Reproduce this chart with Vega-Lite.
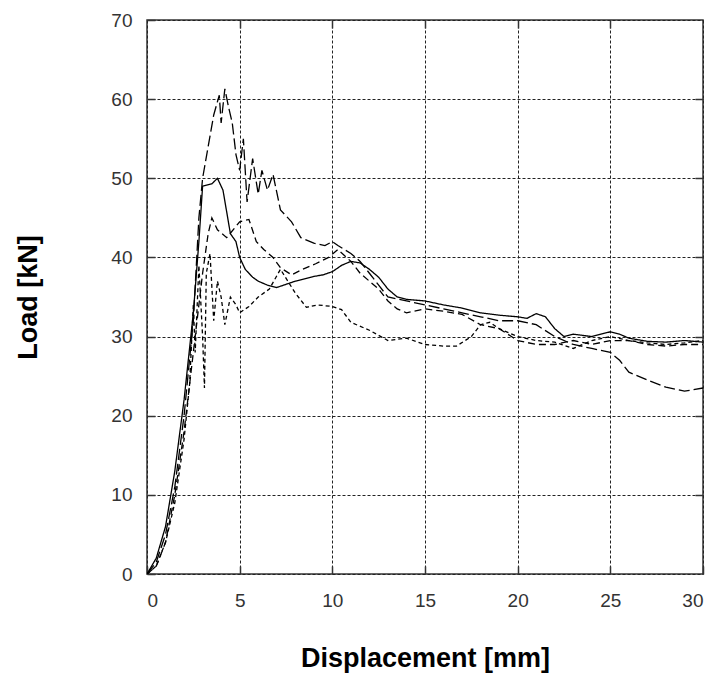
{
  "$schema": "https://vega.github.io/schema/vega-lite/v6.json",
  "autosize": "none",
  "width": 556,
  "height": 554,
  "padding": {"left": 147, "top": 20, "right": 15, "bottom": 103},
  "background": "#ffffff",
  "config": {
    "view": {"stroke": "#333333", "strokeWidth": 1.5},
    "font": "Liberation Sans",
    "axis": {
      "grid": false,
      "gridColor": "#222222",
      "gridDash": [3, 2],
      "gridOpacity": 1,
      "gridWidth": 1,
      "domain": false,
      "ticks": true,
      "tickSize": -8,
      "tickColor": "#333333",
      "tickWidth": 1.5,
      "labelFont": "Liberation Sans",
      "labelFontSize": 19,
      "labelColor": "#333333",
      "titleFont": "Liberation Sans",
      "titleFontSize": 27,
      "titleFontWeight": "bold",
      "titleColor": "#000000"
    }
  },
  "resolve": {"axis": {"x": "independent", "y": "independent"}},
  "data": {
    "values": [
      {"series": "A", "x": 0, "y": 0}, {"series": "A", "x": 0.5, "y": 2}, {"series": "A", "x": 1, "y": 6}, {"series": "A", "x": 1.5, "y": 13}, {"series": "A", "x": 2, "y": 22}, {"series": "A", "x": 2.5, "y": 33}, {"series": "A", "x": 2.8, "y": 42}, {"series": "A", "x": 3.0, "y": 49}, {"series": "A", "x": 3.5, "y": 49.3}, {"series": "A", "x": 3.8, "y": 50}, {"series": "A", "x": 4.1, "y": 48.5}, {"series": "A", "x": 4.5, "y": 43}, {"series": "A", "x": 4.8, "y": 42}, {"series": "A", "x": 5, "y": 40}, {"series": "A", "x": 5.3, "y": 38.5}, {"series": "A", "x": 5.7, "y": 37.5}, {"series": "A", "x": 6, "y": 37}, {"series": "A", "x": 6.5, "y": 36.5}, {"series": "A", "x": 7, "y": 36.2}, {"series": "A", "x": 7.5, "y": 36.6}, {"series": "A", "x": 8, "y": 37}, {"series": "A", "x": 8.5, "y": 37.3}, {"series": "A", "x": 9, "y": 37.6}, {"series": "A", "x": 9.5, "y": 37.8}, {"series": "A", "x": 10, "y": 38.2}, {"series": "A", "x": 10.5, "y": 39}, {"series": "A", "x": 11, "y": 39.5}, {"series": "A", "x": 11.5, "y": 39.3}, {"series": "A", "x": 12, "y": 38.5}, {"series": "A", "x": 12.5, "y": 37.5}, {"series": "A", "x": 13, "y": 36}, {"series": "A", "x": 13.5, "y": 35}, {"series": "A", "x": 14, "y": 34.7}, {"series": "A", "x": 15, "y": 34.5}, {"series": "A", "x": 16, "y": 34}, {"series": "A", "x": 17, "y": 33.6}, {"series": "A", "x": 18, "y": 33}, {"series": "A", "x": 19, "y": 32.7}, {"series": "A", "x": 20, "y": 32.5}, {"series": "A", "x": 20.5, "y": 32.3}, {"series": "A", "x": 21, "y": 32.9}, {"series": "A", "x": 21.5, "y": 32.5}, {"series": "A", "x": 22, "y": 31}, {"series": "A", "x": 22.5, "y": 30}, {"series": "A", "x": 23, "y": 30.3}, {"series": "A", "x": 24, "y": 30}, {"series": "A", "x": 25, "y": 30.6}, {"series": "A", "x": 25.5, "y": 30.3}, {"series": "A", "x": 26, "y": 29.8}, {"series": "A", "x": 27, "y": 29.4}, {"series": "A", "x": 28, "y": 29.3}, {"series": "A", "x": 29, "y": 29.5}, {"series": "A", "x": 30, "y": 29.3},

      {"series": "B", "x": 0, "y": 0}, {"series": "B", "x": 0.5, "y": 1.5}, {"series": "B", "x": 1, "y": 5}, {"series": "B", "x": 1.5, "y": 11}, {"series": "B", "x": 2, "y": 20}, {"series": "B", "x": 2.5, "y": 32}, {"series": "B", "x": 2.8, "y": 45}, {"series": "B", "x": 3.0, "y": 50}, {"series": "B", "x": 3.3, "y": 54}, {"series": "B", "x": 3.6, "y": 58}, {"series": "B", "x": 3.9, "y": 60.5}, {"series": "B", "x": 4.0, "y": 57}, {"series": "B", "x": 4.2, "y": 61.3}, {"series": "B", "x": 4.4, "y": 59}, {"series": "B", "x": 4.6, "y": 57}, {"series": "B", "x": 4.8, "y": 53}, {"series": "B", "x": 5.0, "y": 51}, {"series": "B", "x": 5.2, "y": 55}, {"series": "B", "x": 5.4, "y": 47}, {"series": "B", "x": 5.7, "y": 52.5}, {"series": "B", "x": 6.0, "y": 48}, {"series": "B", "x": 6.2, "y": 51}, {"series": "B", "x": 6.5, "y": 48.5}, {"series": "B", "x": 6.8, "y": 50.5}, {"series": "B", "x": 7.2, "y": 46}, {"series": "B", "x": 7.8, "y": 44.5}, {"series": "B", "x": 8.3, "y": 42.5}, {"series": "B", "x": 9, "y": 41.8}, {"series": "B", "x": 9.6, "y": 41.5}, {"series": "B", "x": 10, "y": 42}, {"series": "B", "x": 10.3, "y": 41.5}, {"series": "B", "x": 11, "y": 40.5}, {"series": "B", "x": 11.5, "y": 39.5}, {"series": "B", "x": 12, "y": 38}, {"series": "B", "x": 12.5, "y": 36.5}, {"series": "B", "x": 13, "y": 35}, {"series": "B", "x": 14, "y": 34.5}, {"series": "B", "x": 15, "y": 34}, {"series": "B", "x": 16, "y": 33.5}, {"series": "B", "x": 17, "y": 33}, {"series": "B", "x": 18, "y": 32.5}, {"series": "B", "x": 19, "y": 32}, {"series": "B", "x": 20, "y": 32}, {"series": "B", "x": 21, "y": 31.5}, {"series": "B", "x": 22, "y": 30}, {"series": "B", "x": 23, "y": 29}, {"series": "B", "x": 24, "y": 28.5}, {"series": "B", "x": 25, "y": 28}, {"series": "B", "x": 25.5, "y": 27}, {"series": "B", "x": 26, "y": 25.5}, {"series": "B", "x": 27, "y": 24.5}, {"series": "B", "x": 28, "y": 23.6}, {"series": "B", "x": 29, "y": 23.1}, {"series": "B", "x": 30, "y": 23.5},

      {"series": "C", "x": 0, "y": 0}, {"series": "C", "x": 0.5, "y": 1}, {"series": "C", "x": 1, "y": 4}, {"series": "C", "x": 1.5, "y": 10}, {"series": "C", "x": 2, "y": 18}, {"series": "C", "x": 2.5, "y": 28}, {"series": "C", "x": 3.0, "y": 38}, {"series": "C", "x": 3.3, "y": 43}, {"series": "C", "x": 3.5, "y": 45}, {"series": "C", "x": 3.8, "y": 43.5}, {"series": "C", "x": 4.3, "y": 42.5}, {"series": "C", "x": 5, "y": 44.5}, {"series": "C", "x": 5.5, "y": 44.8}, {"series": "C", "x": 5.9, "y": 42}, {"series": "C", "x": 6.3, "y": 41}, {"series": "C", "x": 6.8, "y": 40}, {"series": "C", "x": 7.2, "y": 38.7}, {"series": "C", "x": 7.8, "y": 37.8}, {"series": "C", "x": 8.4, "y": 38.5}, {"series": "C", "x": 9.1, "y": 39.2}, {"series": "C", "x": 9.8, "y": 40}, {"series": "C", "x": 10.3, "y": 41}, {"series": "C", "x": 11, "y": 39.5}, {"series": "C", "x": 11.5, "y": 38}, {"series": "C", "x": 12, "y": 37}, {"series": "C", "x": 12.5, "y": 36}, {"series": "C", "x": 13, "y": 34.5}, {"series": "C", "x": 13.5, "y": 33.5}, {"series": "C", "x": 14, "y": 33}, {"series": "C", "x": 15, "y": 33.5}, {"series": "C", "x": 16, "y": 33.2}, {"series": "C", "x": 17, "y": 32.8}, {"series": "C", "x": 18, "y": 31.5}, {"series": "C", "x": 19, "y": 31}, {"series": "C", "x": 20, "y": 29.5}, {"series": "C", "x": 21, "y": 29}, {"series": "C", "x": 22, "y": 29}, {"series": "C", "x": 23, "y": 29.5}, {"series": "C", "x": 24, "y": 29}, {"series": "C", "x": 25, "y": 29.5}, {"series": "C", "x": 26, "y": 29.5}, {"series": "C", "x": 27, "y": 29}, {"series": "C", "x": 28, "y": 28.8}, {"series": "C", "x": 29, "y": 29}, {"series": "C", "x": 30, "y": 29},

      {"series": "D", "x": 0, "y": 0}, {"series": "D", "x": 0.5, "y": 1}, {"series": "D", "x": 1, "y": 4}, {"series": "D", "x": 1.5, "y": 9}, {"series": "D", "x": 2, "y": 17}, {"series": "D", "x": 2.3, "y": 24}, {"series": "D", "x": 2.5, "y": 34}, {"series": "D", "x": 2.6, "y": 28}, {"series": "D", "x": 2.8, "y": 39}, {"series": "D", "x": 3.0, "y": 30}, {"series": "D", "x": 3.1, "y": 23.5}, {"series": "D", "x": 3.2, "y": 38}, {"series": "D", "x": 3.4, "y": 40.5}, {"series": "D", "x": 3.6, "y": 32}, {"series": "D", "x": 3.8, "y": 37}, {"series": "D", "x": 4.0, "y": 35}, {"series": "D", "x": 4.2, "y": 31.5}, {"series": "D", "x": 4.5, "y": 35}, {"series": "D", "x": 4.8, "y": 34}, {"series": "D", "x": 5, "y": 33}, {"series": "D", "x": 5.5, "y": 33.8}, {"series": "D", "x": 6, "y": 35}, {"series": "D", "x": 6.6, "y": 36}, {"series": "D", "x": 7.2, "y": 38.5}, {"series": "D", "x": 8, "y": 35.5}, {"series": "D", "x": 8.6, "y": 33.7}, {"series": "D", "x": 9.2, "y": 34}, {"series": "D", "x": 10, "y": 33.8}, {"series": "D", "x": 10.5, "y": 33.4}, {"series": "D", "x": 11, "y": 31.8}, {"series": "D", "x": 12, "y": 30.8}, {"series": "D", "x": 13, "y": 29.5}, {"series": "D", "x": 14, "y": 29.8}, {"series": "D", "x": 15, "y": 29}, {"series": "D", "x": 16, "y": 28.8}, {"series": "D", "x": 16.7, "y": 28.8}, {"series": "D", "x": 17.5, "y": 30}, {"series": "D", "x": 18, "y": 31.5}, {"series": "D", "x": 18.5, "y": 31.8}, {"series": "D", "x": 19, "y": 31}, {"series": "D", "x": 20, "y": 30}, {"series": "D", "x": 21, "y": 29.5}, {"series": "D", "x": 22, "y": 29.3}, {"series": "D", "x": 23, "y": 28.5}, {"series": "D", "x": 24, "y": 29.5}, {"series": "D", "x": 25, "y": 30}, {"series": "D", "x": 26, "y": 29.5}, {"series": "D", "x": 27, "y": 29.2}, {"series": "D", "x": 28, "y": 29}, {"series": "D", "x": 29, "y": 29.2}, {"series": "D", "x": 30, "y": 29.5}
    ]
  },
  "layer": [
    {
      "mark": {"type": "line", "color": "#000000", "strokeWidth": 1.3, "clip": true},
      "encoding": {
        "x": {
          "field": "x", "type": "quantitative",
          "scale": {"domain": [0, 30], "nice": false},
          "axis": {"values": [0, 5, 10, 15, 20, 25, 30], "grid": true, "title": "Displacement [mm]", "labelPadding": 25, "titleBaseline": "alphabetic", "titleY": 92}
        },
        "y": {
          "field": "y", "type": "quantitative",
          "scale": {"domain": [0, 70], "nice": false},
          "axis": {"values": [0, 10, 20, 30, 40, 50, 60, 70], "grid": true, "title": "Load [kN]", "labelPadding": 23, "titleBaseline": "alphabetic", "titleX": -111}
        },
        "strokeDash": {
          "field": "series", "type": "nominal",
          "scale": {"domain": ["A", "B", "C", "D"], "range": [[1, 0], [11, 4], [7, 4], [4, 3]]},
          "legend": null
        }
      }
    },
    {
      "mark": {"type": "point", "opacity": 0},
      "encoding": {
        "x": {
          "field": "x", "type": "quantitative",
          "axis": {"orient": "top", "values": [5, 10, 15, 20, 25], "labels": false, "title": null}
        },
        "y": {
          "field": "y", "type": "quantitative",
          "axis": {"orient": "right", "values": [10, 20, 30, 40, 50, 60], "labels": false, "title": null}
        }
      }
    }
  ]
}
